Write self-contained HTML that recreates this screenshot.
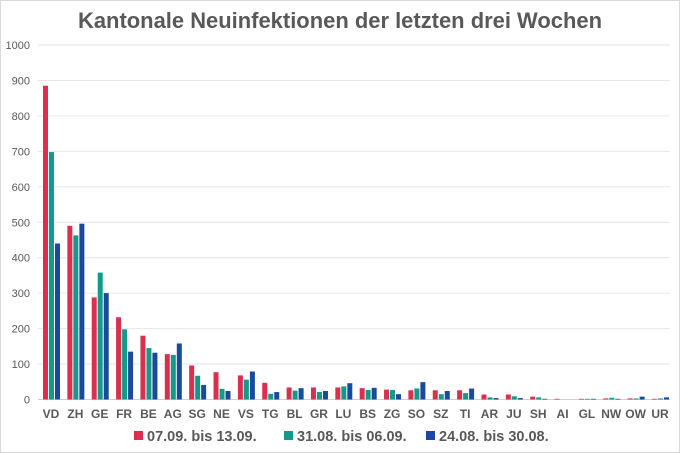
<!DOCTYPE html>
<html><head><meta charset="utf-8"><style>
html,body{margin:0;padding:0;background:#fff;}
svg{display:block;font-family:"Liberation Sans",sans-serif;}
</style></head><body>
<svg id="chart" width="680" height="453" viewBox="0 0 680 453">
<rect x="0.5" y="0.5" width="679" height="452" fill="#fff" stroke="#d9d9d9"/>
<text x="340" y="28" text-anchor="middle" font-size="22" font-weight="bold" fill="#595959" textLength="524" lengthAdjust="spacingAndGlyphs">Kantonale Neuinfektionen der letzten drei Wochen</text>
<g id="grid"></g>
<g id="bars"></g>
<g id="xlabels"></g>
<g id="legend"></g>
</svg>
<script>
const categories = ["VD","ZH","GE","FR","BE","AG","SG","NE","VS","TG","BL","GR","LU","BS","ZG","SO","SZ","TI","AR","JU","SH","AI","GL","NW","OW","UR"];
const week1 = [885,490,288,232,180,128,96,77,68,47,34,34,34,32,28,26,26,26,14,14,8,2,2,3,3,2];
const week2 = [698,463,358,198,145,126,67,30,56,16,25,21,37,27,27,31,15,18,6,9,6,0,2,5,3,3];
const week3 = [440,496,300,135,132,158,41,24,79,21,32,24,46,33,15,49,24,31,4,4,2,0,2,2,8,6];
const seriesNames = ["07.09. bis 13.09.","31.08. bis 06.09.","24.08. bis 30.08."];
const yTicks = [0,100,200,300,400,500,600,700,800,900,1000];
const colors = ["#d9304f","#14998a","#1a4a9c"];
const NS="http://www.w3.org/2000/svg";
const y0=399.5, y1=45, x0=38, x1=670;
function yScale(v){return y0-(v/1000)*(y0-y1);}
function xScale(i){return 51+i*24.36;}
function mk(tag,attrs,parent){const e=document.createElementNS(NS,tag);for(const k in attrs)e.setAttribute(k,attrs[k]);parent.appendChild(e);return e;}
const grid=document.getElementById('grid');
yTicks.forEach(t=>{
  const l=mk('line',{x1:x0,x2:x1,y1:yScale(t),y2:yScale(t),stroke:t===0?'#d0d0d0':'#e6e6e6','stroke-width':1},grid);
  
  
  const tx=mk('text',{x:30,y:yScale(t)+4,'text-anchor':'end','font-size':11,fill:'#595959'},grid);
  tx.textContent=t;
  
  
});
const bars=document.getElementById('bars');
const series=[week1,week2,week3];
categories.forEach((c,i)=>{
  series.forEach((s,k)=>{
    const v=s[i];
    const r=mk('rect',{x:xScale(i)-8+k*6,y:yScale(v),width:5,height:Math.max(0,y0-yScale(v)),fill:colors[k]},bars);
    
    
  });
  const t=mk('text',{x:xScale(i),y:418,'text-anchor':'middle','font-size':12,'font-weight':'bold',fill:'#595959'},document.getElementById('xlabels'));
  t.textContent=c;
  
  
});
const lg=document.getElementById('legend');
const lx=[134,284,426];
seriesNames.forEach((n,k)=>{
  const g=mk('g',{},lg);
  
  
  mk('rect',{x:lx[k],y:431,width:9,height:9,fill:colors[k]},g);
  const t=mk('text',{x:lx[k]+13,y:441,'font-size':14.5,'font-weight':'bold',fill:'#595959'},g);
  t.textContent=n;
});
</script>
</body></html>
